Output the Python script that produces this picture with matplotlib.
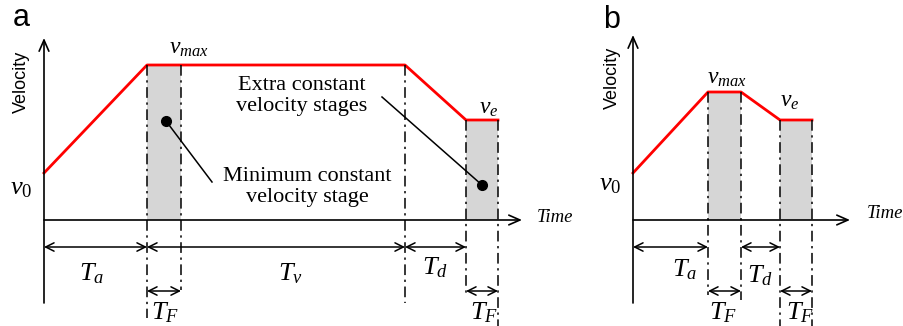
import matplotlib
matplotlib.use("Agg")
import matplotlib.pyplot as plt

plt.rcParams['mathtext.fontset'] = 'custom'
plt.rcParams['mathtext.rm'] = 'Liberation Serif'
plt.rcParams['mathtext.it'] = 'Liberation Serif:italic'

# ---- data (schematic units: time along x, velocity along y) ----
# panel a
times_a = [0, 103, 137, 361, 422, 454]
vel_a = [47, 155, 155, 155, 100, 100]
bands_a = [(103, 137, 155), (422, 454, 100)]
# panel b
times_b = [0, 75, 108, 147, 179]
vel_b = [47, 128, 128, 100, 100]
bands_b = [(75, 108, 128), (147, 179, 100)]

W, H = 904, 326
fig = plt.figure(figsize=(W / 100, H / 100), dpi=100)

SERIF = 'Liberation Serif'
RED = '#ff0000'
GRAY = '#d6d6d6'


def make_axes(ox, oy):
    ax = fig.add_axes([0, 0, 1, 1])
    ax.set_xlim(-ox, W - ox)
    ax.set_ylim(-(H - oy), oy)
    ax.axis('off')
    ax.patch.set_alpha(0)
    return ax


def darrow(ax, x0, x1, y):
    ax.annotate('', xy=(x1, y), xytext=(x0, y),
                arrowprops=dict(arrowstyle='<->,head_length=0.6,head_width=0.3',
                                color='black', lw=1.1, shrinkA=0, shrinkB=0))


def axis_arrows(ax, xend, ytop):
    ax.annotate('', xy=(xend, 0), xytext=(0, 0),
                arrowprops=dict(arrowstyle='->,head_length=0.8,head_width=0.35',
                                color='black', lw=1.2, shrinkA=0, shrinkB=0))
    ax.annotate('', xy=(0, ytop), xytext=(0, -83),
                arrowprops=dict(arrowstyle='->,head_length=0.8,head_width=0.35',
                                color='black', lw=1.2, shrinkA=0, shrinkB=0))


def vline(ax, x, ytop, ybot):
    ax.plot([x, x], [ytop, ybot], color='black', lw=1.1, ls=(0, (7, 3, 1.5, 3)))


fs = 17
fT = 19

# ---------------- panel a ----------------
ax = make_axes(44, 220)
for (x0, x1, v) in bands_a:
    ax.fill_between([x0, x1], 0, v, color=GRAY, lw=0)
ax.plot(times_a, vel_a, color=RED, lw=2)
axis_arrows(ax, 478, 182)
vline(ax, times_a[1], vel_a[1], -98)
vline(ax, times_a[2], vel_a[2], -70)
vline(ax, times_a[3], vel_a[3], -83)
vline(ax, times_a[4], vel_a[4], -75)
vline(ax, times_a[5], vel_a[5], -106)
darrow(ax, 0, times_a[1], -27)
darrow(ax, times_a[1], times_a[3], -27)
darrow(ax, times_a[3], times_a[4], -27)
darrow(ax, times_a[1], times_a[2], -71)
darrow(ax, times_a[4], times_a[5], -71)

ax.text(48, -53, r'$T_a$', fontsize=fT, ha='center', va='center')
ax.text(246, -53, r'$T_v$', fontsize=fT, ha='center', va='center')
ax.text(391, -47, r'$T_d$', fontsize=fT, ha='center', va='center')
ax.text(121, -92, r'$T_F$', fontsize=fT, ha='center', va='center')
ax.text(440, -92, r'$T_F$', fontsize=fT, ha='center', va='center')
ax.text(145, 173, r'$v_{max}$', fontsize=fs, ha='center', va='center')
ax.text(445, 113, r'$v_e$', fontsize=fs, ha='center', va='center')
ax.text(-23, 33, r'$v_0$', fontsize=fT, ha='center', va='center')
ax.text(493, 2, 'Time', fontsize=13.5, family=SERIF, style='italic', ha='left', va='center')
ax.text(-23, 138, 'Velocity', fontsize=13, family='Liberation Sans', rotation=90,
        ha='center', va='center')
ax.text(-23, 194, 'a', fontsize=22, family='Liberation Sans', ha='center', va='baseline')

ax.text(258, 124, 'Extra constant\nvelocity stages', fontsize=16, family=SERIF,
        ha='center', va='center', linespacing=1.2)
ax.plot([338, 438], [123, 35], color='black', lw=1.1)
ax.plot([438], [35], 'o', color='black', ms=7)
ax.text(263, 33, 'Minimum constant\nvelocity stage', fontsize=16, family=SERIF,
        ha='center', va='center', linespacing=1.2)
ax.plot([168, 122], [38, 99], color='black', lw=1.1)
ax.plot([122], [99], 'o', color='black', ms=7)

# ---------------- panel b ----------------
bx = make_axes(633, 220)
for (x0, x1, v) in bands_b:
    bx.fill_between([x0, x1], 0, v, color=GRAY, lw=0)
bx.plot(times_b, vel_b, color=RED, lw=2)
axis_arrows(bx, 217, 185)
vline(bx, times_b[1], vel_b[1], -75)
vline(bx, times_b[2], vel_b[2], -80)
vline(bx, times_b[3], vel_b[3], -106)
vline(bx, times_b[4], vel_b[4], -106)
darrow(bx, 0, times_b[1], -27)
darrow(bx, times_b[2], times_b[3], -27)
darrow(bx, times_b[1], times_b[2], -71)
darrow(bx, times_b[3], times_b[4], -71)

bx.text(52, -49, r'$T_a$', fontsize=fT, ha='center', va='center')
bx.text(127, -55, r'$T_d$', fontsize=fT, ha='center', va='center')
bx.text(90, -92, r'$T_F$', fontsize=fT, ha='center', va='center')
bx.text(167, -92, r'$T_F$', fontsize=fT, ha='center', va='center')
bx.text(94, 143, r'$v_{max}$', fontsize=fs, ha='center', va='center')
bx.text(157, 120, r'$v_e$', fontsize=fs, ha='center', va='center')
bx.text(-23, 37, r'$v_0$', fontsize=fT, ha='center', va='center')
bx.text(234, 6, 'Time', fontsize=13.5, family=SERIF, style='italic', ha='left', va='center')
bx.text(-21, 142, 'Velocity', fontsize=13, family='Liberation Sans', rotation=90,
        ha='center', va='center')
bx.text(-21, 192, 'b', fontsize=22, family='Liberation Sans', ha='center', va='baseline')

fig.savefig('out.png', dpi=100)
